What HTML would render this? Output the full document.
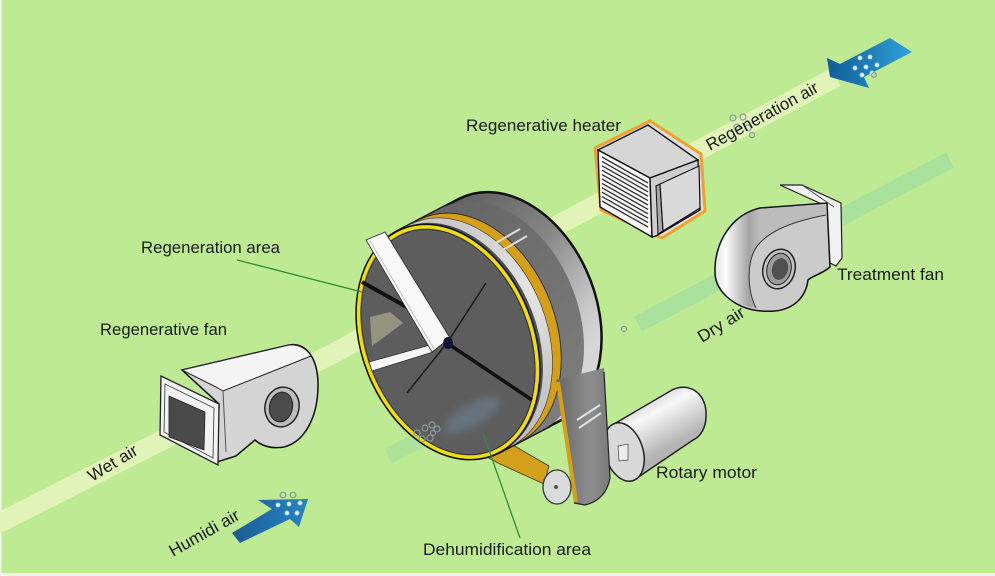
<!DOCTYPE html>
<html>
<head>
<meta charset="utf-8">
<style>
html,body{margin:0;padding:0;background:#bdea92;}
svg{display:block;}
text{font-family:"Liberation Sans",Arial,sans-serif;font-size:17px;fill:#1c1c1c;}
</style>
</head>
<body>
<svg width="995" height="576" viewBox="0 0 995 576" xmlns="http://www.w3.org/2000/svg">
<defs>
  <linearGradient id="drumG" gradientUnits="userSpaceOnUse" x1="440" y1="200" x2="605" y2="330">
    <stop offset="0" stop-color="#5a5a5a"/>
    <stop offset="0.5" stop-color="#858585"/>
    <stop offset="0.85" stop-color="#c6c6c6"/>
    <stop offset="1" stop-color="#d6d6d6"/>
  </linearGradient>
  <linearGradient id="grayBand" gradientUnits="userSpaceOnUse" x1="420" y1="210" x2="590" y2="380">
    <stop offset="0" stop-color="#646464"/>
    <stop offset="1" stop-color="#7c7c7c"/>
  </linearGradient>
  <linearGradient id="silverBand" gradientUnits="userSpaceOnUse" x1="420" y1="220" x2="560" y2="420">
    <stop offset="0" stop-color="#c4c4c4"/>
    <stop offset="0.5" stop-color="#e4e4e4"/>
    <stop offset="1" stop-color="#bdbdbd"/>
  </linearGradient>
  <linearGradient id="strapG" gradientUnits="userSpaceOnUse" x1="560" y1="0" x2="610" y2="0">
    <stop offset="0" stop-color="#6a6a6a"/>
    <stop offset="0.6" stop-color="#8e8e8e"/>
    <stop offset="1" stop-color="#7a7a7a"/>
  </linearGradient>
  <linearGradient id="motorG" gradientUnits="userSpaceOnUse" x1="640" y1="398" x2="668" y2="448">
    <stop offset="0" stop-color="#cfcfcf"/>
    <stop offset="0.35" stop-color="#f7f7f7"/>
    <stop offset="1" stop-color="#b4b4b4"/>
  </linearGradient>
  <linearGradient id="fanCurve" gradientUnits="userSpaceOnUse" x1="715" y1="0" x2="760" y2="0">
    <stop offset="0" stop-color="#e6e6e6"/>
    <stop offset="0.25" stop-color="#fbfbfb"/>
    <stop offset="0.75" stop-color="#a4a4a4"/>
    <stop offset="1" stop-color="#bcbcbc"/>
  </linearGradient>
  <linearGradient id="arrR" x1="0" y1="0" x2="1" y2="0">
    <stop offset="0" stop-color="#125b98"/>
    <stop offset="1" stop-color="#2ea3d8"/>
  </linearGradient>
  <linearGradient id="arrH" x1="0" y1="0" x2="1" y2="0">
    <stop offset="0" stop-color="#1b5c94"/>
    <stop offset="1" stop-color="#2784c2"/>
  </linearGradient>
  <filter id="blur4" x="-50%" y="-50%" width="200%" height="200%">
    <feGaussianBlur stdDeviation="4"/>
  </filter>
</defs>

<!-- background -->
<rect width="995" height="576" fill="#bdea92"/>
<rect x="0" y="0" width="1.5" height="576" fill="#f2f7ec"/>
<rect x="0" y="573" width="995" height="3" fill="#eef6e6"/>

<!-- main light beam (wet air / regeneration air) -->
<polyline points="-5,525 340,350 560,224 836,77" stroke="#e2f3b8" stroke-width="20" fill="none" stroke-linejoin="round"/>

<!-- faint treatment beam -->
<line x1="388" y1="456" x2="445" y2="427" stroke="#aadf9c" stroke-width="16" opacity="0.7"/>
<line x1="638" y1="324" x2="950" y2="160" stroke="#a9e09b" stroke-width="17"/>

<!-- ============ Regenerative fan ============ -->
<path d="M182,370 L289,345 C306,342 318,358 318,385 C318,418 304,442 284,447 C272,449 262,446 255,440 L236,456 L217,462 L219,404 Z" fill="#d4d4d4" stroke="#111" stroke-width="1.5"/>
<path d="M182,370 L289,345 C299,344 307,349 311,356 L223,391 L214,386 Z" fill="#f4f4f4" stroke="#222" stroke-width="1"/>
<path d="M223,391 L226,452" stroke="#555" stroke-width="1" fill="none"/>
<ellipse cx="282" cy="407" rx="17" ry="20" transform="rotate(12 282 407)" fill="#bdbdbd" stroke="#222" stroke-width="1.5"/>
<ellipse cx="281" cy="407" rx="11.5" ry="15" transform="rotate(12 281 407)" fill="#4c4c4c" stroke="#222" stroke-width="1"/>
<polygon points="161,376 219,404 218,465 160,435" fill="#f2f2f2" stroke="#222" stroke-width="1.3"/>
<polygon points="165,384 214,408 213,458 164,432" fill="none" stroke="#444" stroke-width="0.9"/>
<polygon points="169,396 205,412 204,450 169,437" fill="#4a4a4a" stroke="#222" stroke-width="0.8"/>

<!-- lower yellow belt run -->
<polygon points="486,445 506,441 549,466 544,484 500,464 487,457" fill="#d4a01c" stroke="#3a3010" stroke-width="0.8"/>

<!-- ============ Drum ============ -->
<path d="M396.9,231.4 L459.9,198.4 A122,86 68 0 1 562.1,419.6 L499.1,452.6 A122,86 68 0 1 396.9,231.4 Z" fill="url(#drumG)" stroke="#111" stroke-width="2.5"/>
<path d="M396.9,231.4 L442.3,207.6 A122,86 68 0 1 544.5,428.8 L499.1,452.6 A122,86 68 0 1 396.9,231.4 Z" fill="url(#grayBand)"/>
<path d="M396.9,231.4 L419.6,219.5 A122,86 68 0 1 521.8,440.7 L499.1,452.6 A122,86 68 0 1 396.9,231.4 Z" fill="#d4a01c" stroke="#2e2a10" stroke-width="0.9"/>
<path d="M396.9,231.4 L410.8,224.1 A122,86 68 0 1 513.0,445.3 L499.1,452.6 A122,86 68 0 1 396.9,231.4 Z" fill="url(#silverBand)" stroke="#333" stroke-width="0.6"/>
<path d="M396.9,231.4 L401.3,229.1 A122,86 68 0 1 503.5,450.3 L499.1,452.6 A122,86 68 0 1 396.9,231.4 Z" fill="#4e4e4e"/>
<!-- highlight stripes on drum top -->
<line x1="494" y1="244" x2="520" y2="229" stroke="#dedede" stroke-width="2"/>
<line x1="501" y1="251" x2="527" y2="236" stroke="#dedede" stroke-width="2"/>

<!-- front face -->
<ellipse cx="448" cy="342" rx="122" ry="86" transform="rotate(68 448 342)" fill="#5d5d5d" stroke="#111" stroke-width="1.6"/>
<ellipse cx="448" cy="342" rx="119.5" ry="83.5" transform="rotate(68 448 342)" fill="none" stroke="#f0dc14" stroke-width="3.5"/>
<ellipse cx="448" cy="342" rx="117" ry="81" transform="rotate(68 448 342)" fill="none" stroke="#2a2a2a" stroke-width="0.8"/>

<!-- beam through face (translucent) -->
<polygon points="370,317 390,312 403,323 372,346" fill="#c9c9a4" opacity="0.5"/>
<!-- bluish air on face -->
<ellipse cx="472" cy="415" rx="32" ry="11" transform="rotate(-30 472 415)" fill="#7a9cb8" opacity="0.35" filter="url(#blur4)"/>

<!-- spokes -->
<line x1="362" y1="282" x2="430" y2="320" stroke="#111" stroke-width="4"/>
<line x1="447" y1="343" x2="486" y2="283" stroke="#1a1a1a" stroke-width="1.5"/>
<line x1="447" y1="343" x2="532" y2="400" stroke="#111" stroke-width="3.5"/>
<line x1="447" y1="343" x2="407" y2="393" stroke="#1a1a1a" stroke-width="1.5"/>
<!-- white bars -->
<polygon points="369,362 430,345 433,352 372,371" fill="#f6f6f6" stroke="#333" stroke-width="0.8"/>
<polygon points="366,240 385,232 450,338 432,352" fill="#f8f8f8" stroke="#333" stroke-width="0.9"/>
<line x1="370" y1="241" x2="434" y2="349" stroke="#bdbdbd" stroke-width="1"/>
<ellipse cx="448" cy="343" rx="5" ry="6" fill="#14143a"/>

<!-- ============ Motor ============ -->
<path d="M614,424 L672,390 C688,382 705,392 706,412 C707,428 700,437 693,440 L634,480 Z" fill="url(#motorG)" stroke="#222" stroke-width="1.5"/>
<polygon points="606,447 622,445 622,462 608,463" fill="#e4e4e4" stroke="#333" stroke-width="0.8"/>
<ellipse cx="608" cy="455" rx="4" ry="8" fill="#efefef" stroke="#333" stroke-width="0.8"/>
<ellipse cx="624" cy="452" rx="30" ry="19" transform="rotate(72.5 624 452)" fill="#d8d8d8" stroke="#222" stroke-width="1.5"/>
<polygon points="618,446 628,444 628,460 619,461" fill="#ececec" stroke="#444" stroke-width="0.7"/>

<!-- ============ Strap & pulley ============ -->
<path d="M556,380 L604,368 L610,478 Q606,500 585,505 L574,503 Z" fill="url(#strapG)"/>
<path d="M604,372 L610,478 Q606,500 585,505 L574,503" fill="none" stroke="#222" stroke-width="1.2"/>
<line x1="558" y1="382" x2="576" y2="502" stroke="#d4a01c" stroke-width="4"/>
<line x1="577" y1="420" x2="600" y2="405" stroke="#e2e2e2" stroke-width="2"/>
<line x1="579" y1="428" x2="601" y2="413" stroke="#e2e2e2" stroke-width="2"/>
<ellipse cx="557" cy="487" rx="14" ry="17" fill="#dadada" stroke="#333" stroke-width="1.3"/>
<circle cx="556" cy="487" r="2" fill="#555"/>

<!-- ============ Heater ============ -->
<polygon points="595,148 650,121 701,154 705,211 662,238 601,210" fill="#e0e0e0" stroke="#f0a030" stroke-width="3" stroke-linejoin="round"/>
<polygon points="598,150 648,125 698,160 650,178" fill="#d6d6d6" stroke="#111" stroke-width="1.4"/>
<polygon points="598,150 650,178 652,237 600,207" fill="#f6f6f6" stroke="#111" stroke-width="1.4"/>
<g stroke="#333" stroke-width="1.3">
  <line x1="602" y1="157" x2="648" y2="183"/>
  <line x1="602" y1="161.4" x2="648" y2="187.4"/>
  <line x1="602" y1="165.8" x2="648" y2="191.8"/>
  <line x1="602" y1="170.2" x2="648" y2="196.2"/>
  <line x1="602" y1="174.6" x2="648" y2="200.6"/>
  <line x1="602" y1="179" x2="648" y2="205"/>
  <line x1="602" y1="183.4" x2="648" y2="209.4"/>
  <line x1="602" y1="187.8" x2="648" y2="213.8"/>
  <line x1="602" y1="192.2" x2="648" y2="218.2"/>
  <line x1="602" y1="196.6" x2="648" y2="222.6"/>
  <line x1="602" y1="201" x2="648" y2="227"/>
</g>
<polygon points="650,178 698,160 700,210 656,236 652,237" fill="#cfcfcf" stroke="#111" stroke-width="1.4"/>
<polygon points="656,186 660,184 663,231 658,234" fill="#a8a8a8" stroke="#111" stroke-width="1"/>
<polygon points="660,184 699,166 700,208 663,231" fill="#d9d9d9" stroke="#111" stroke-width="1.2"/>

<!-- ============ Treatment fan ============ -->
<polygon points="780,185 802,185 841,203 842,258 836,266 828,262 826,206" fill="#f0f0f0" stroke="#222" stroke-width="1.2"/>
<line x1="802" y1="185" x2="834" y2="207" stroke="#444" stroke-width="0.8"/>
<path d="M715,272 C714,245 730,215 760,208 L827,203 L830,267 C822,274 812,276 808,280 C806,296 795,309 775,311 C750,313 735,305 725,295 C718,288 715,280 715,272 Z" fill="#cbcbcb" stroke="#111" stroke-width="1.5"/>
<path d="M716,272 C715,245 731,216 760,209 L826,204 L826,215 C800,220 772,228 758,245 C746,260 747,290 756,308 C741,306 729,300 723,291 C718,284 716,279 716,272 Z" fill="url(#fanCurve)"/>
<path d="M826,215 C800,220 772,228 758,245 C746,260 747,290 756,308" fill="none" stroke="#333" stroke-width="1"/>
<ellipse cx="779" cy="269" rx="16" ry="20" transform="rotate(15 779 269)" fill="#c4c4c4" stroke="#222" stroke-width="1.5"/>
<ellipse cx="779" cy="269" rx="12" ry="16" transform="rotate(15 779 269)" fill="#9c9c9c" stroke="#222" stroke-width="1"/>
<ellipse cx="780" cy="269" rx="8" ry="11" transform="rotate(15 780 269)" fill="#505050"/>

<!-- ============ Arrows ============ -->
<polygon points="890,38 912,52 864,77 869,88 830,77 827,58 840,64" fill="url(#arrR)"/>
<g fill="#dcefff" stroke="#8fc4e8" stroke-width="0.6">
  <circle cx="860" cy="58" r="2.2"/><circle cx="870" cy="57" r="2.2"/>
  <circle cx="855" cy="68" r="2.2"/><circle cx="866" cy="67" r="2.2"/><circle cx="877" cy="65" r="2.2"/>
  <circle cx="862" cy="75" r="2.2"/><circle cx="872" cy="73" r="2.2"/>
</g>
<polygon points="232,533 272,509 258,500 308,499 299,527 290,519 240,543" fill="url(#arrH)"/>
<g fill="#dcefff" stroke="#8fc4e8" stroke-width="0.6">
  <circle cx="278" cy="505" r="2.2"/><circle cx="289" cy="504" r="2.2"/><circle cx="300" cy="503" r="2.2"/>
  <circle cx="287" cy="513" r="2.2"/><circle cx="297" cy="513" r="2.2"/>
</g>
<g fill="none" stroke="#8a9a9a" stroke-width="1.2">
  <circle cx="283" cy="495" r="2.8"/><circle cx="293" cy="495" r="2.8"/>
  <circle cx="417" cy="433" r="3"/><circle cx="425" cy="428" r="3"/><circle cx="432" cy="425" r="3"/>
  <circle cx="422" cy="439" r="3"/><circle cx="430" cy="438" r="3"/><circle cx="437" cy="429" r="3"/>
  <circle cx="433" cy="433" r="2.5"/>
  <circle cx="733" cy="118" r="3"/><circle cx="743" cy="117" r="3"/><circle cx="737" cy="127" r="3"/>
  <circle cx="748" cy="128" r="3"/><circle cx="752" cy="135" r="2.5"/>
  <circle cx="624" cy="329" r="2.5"/>
  <circle cx="874" cy="75" r="2.4"/>
</g>

<!-- ============ Leader lines ============ -->
<line x1="237" y1="260" x2="362" y2="292" stroke="#2e8b3a" stroke-width="1.3"/>
<line x1="483" y1="433" x2="520" y2="538" stroke="#2e8b3a" stroke-width="1.3"/>

<!-- ============ Labels ============ -->
<text x="466" y="131" textLength="155" lengthAdjust="spacingAndGlyphs">Regenerative heater</text>
<text x="141" y="253" textLength="139" lengthAdjust="spacingAndGlyphs">Regeneration area</text>
<text x="100" y="335" textLength="127" lengthAdjust="spacingAndGlyphs">Regenerative fan</text>
<text x="837" y="280" textLength="107" lengthAdjust="spacingAndGlyphs">Treatment fan</text>
<text x="656" y="478" textLength="101" lengthAdjust="spacingAndGlyphs">Rotary motor</text>
<text x="423" y="555" textLength="168" lengthAdjust="spacingAndGlyphs">Dehumidification area</text>
<text transform="translate(710,151) rotate(-28.6)" textLength="125" lengthAdjust="spacingAndGlyphs">Regeneration air</text>
<text transform="translate(702,343) rotate(-32)" textLength="52" lengthAdjust="spacingAndGlyphs">Dry air</text>
<text transform="translate(92,482) rotate(-31)" textLength="55" lengthAdjust="spacingAndGlyphs">Wet air</text>
<text transform="translate(173,557) rotate(-29.5)" textLength="78" lengthAdjust="spacingAndGlyphs">Humidi air</text>
</svg>
</body>
</html>
